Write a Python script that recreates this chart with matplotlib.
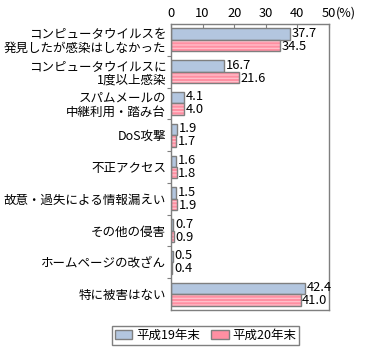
import numpy as np
import matplotlib
matplotlib.use("Agg")
import matplotlib.pyplot as plt
from matplotlib.patches import Patch

plt.rcParams['font.family'] = ['Noto Sans CJK JP', 'DejaVu Sans']
plt.rcParams['hatch.linewidth'] = 0.9

# ===== データ =====
categories = ['コンピュータウイルスを\n発見したが感染はしなかった',
              'コンピュータウイルスに\n1度以上感染',
              'スパムメールの\n中継利用・踏み台',
              'DoS攻撃',
              '不正アクセス',
              '故意・過失による情報漏えい',
              'その他の侵害',
              'ホームページの改ざん',
              '特に被害はない']
h19 = [37.7, 16.7, 4.1, 1.9, 1.6, 1.5, 0.7, 0.5, 42.4]
h20 = [34.5, 21.6, 4.0, 1.7, 1.8, 1.9, 0.9, 0.4, 41.0]
series_names = ['平成19年末', '平成20年末']
xticks = [0, 10, 20, 30, 40, 50]

# ===== 色 =====
blue = '#b3c6df'
pink = '#ff8fa2'
pink_stripe = '#ffc2cc'
edge = '#7f7f7f'

fig = plt.figure(figsize=(3.72, 3.56), dpi=100)
ax = fig.add_axes([171 / 372, 1 - 310 / 356, 158 / 372, 286 / 356])

y = np.arange(len(categories))
bh = 0.36

ax.barh(y - bh / 2, h19, height=bh, color=blue, edgecolor=edge, linewidth=1.0)
# ストライプ付きの棒（塗り + 縞）と枠線を別々に描く
ax.barh(y + bh / 2, h20, height=bh, color=pink, edgecolor=pink_stripe,
        hatch='-----', linewidth=0)
ax.barh(y + bh / 2, h20, height=bh, fill=False, edgecolor=edge, linewidth=1.0)

fs = 9
fs_num = 9.3
for i in range(len(categories)):
    ax.annotate(f'{h19[i]:.1f}', (h19[i], y[i] - bh / 2), xytext=(1.2, 0.6),
                textcoords='offset points', ha='left', va='center', fontsize=fs_num)
    ax.annotate(f'{h20[i]:.1f}', (h20[i], y[i] + bh / 2), xytext=(1.2, -0.6),
                textcoords='offset points', ha='left', va='center', fontsize=fs_num)

ax.set_xlim(0, 50)
ax.set_ylim(len(categories) - 0.5, -0.5)

ax.xaxis.tick_top()
ax.set_xticks(xticks)
ax.set_xticklabels([str(t) for t in xticks], fontsize=fs_num)
ax.tick_params(axis='x', direction='in', length=3, width=0.8, color=edge, pad=3)
ax.annotate('(%)', (50, 1), xycoords=('data', 'axes fraction'), xytext=(5.0, 3),
            textcoords='offset points', ha='left', va='bottom', fontsize=fs)

ax.set_yticks(y)
ax.set_yticklabels(categories, fontsize=fs, linespacing=1.05)
ax.tick_params(axis='y', which='major', length=0, pad=3.5)
ax.set_yticks(np.arange(0.5, len(categories) - 0.5, 1), minor=True)
ax.tick_params(axis='y', which='minor', direction='out', length=3, width=0.8, color=edge)

for s in ax.spines.values():
    s.set_color(edge)
    s.set_linewidth(1.0)

handles = [Patch(facecolor=blue, edgecolor=edge, linewidth=1.0),
           Patch(facecolor=pink, edgecolor=edge, linewidth=1.0)]
leg = fig.legend(handles, series_names, loc='center', bbox_to_anchor=(205.5 / 372, 1 - 335.5 / 356),
                 ncol=2, fontsize=fs, frameon=True, fancybox=False, framealpha=1,
                 edgecolor=edge, handlelength=1.4, handleheight=0.8, handletextpad=0.3,
                 columnspacing=0.9, borderpad=0.25, borderaxespad=0)
leg.get_frame().set_linewidth(1.0)

fig.savefig('out.png', dpi=100)
